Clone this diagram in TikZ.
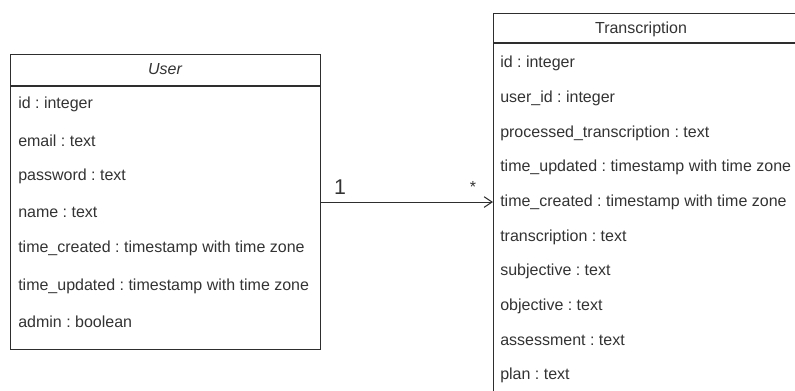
\documentclass[tikz,border=0pt]{standalone}
\usepackage{fontspec}
\setmainfont{Liberation Sans}
\usetikzlibrary{positioning, calc, arrows.meta}

\definecolor{umltext}{HTML}{333333}
\definecolor{umlline}{HTML}{2E2E2E}
\frenchspacing

\begin{document}
\begin{tikzpicture}[x=0.75pt, y=-0.75pt,
	classbox/.style={draw=umlline, line width=0.8pt, anchor=north west, inner sep=0pt},
	field/.style={anchor=west, inner sep=0pt, text=umltext, font=\fontsize{12}{14}\selectfont},
	title/.style={inner sep=0pt, text=umltext, font=\fontsize{12}{14}\selectfont},
	assoc/.style={draw=umlline, line width=0.8pt, -{Straight Barb[length=6pt, width=8pt]}}]
	\clip (0,0) rectangle (795,390);

	% User class
	\node[classbox, minimum width=232.5pt, minimum height=221.25pt] (user) at (10,54) {};
	\draw[umlline, line width=0.8pt] ($(user.north west)+(0,32)$) -- ($(user.north east)+(0,32)$);
	\node[title, font=\fontsize{12}{14}\selectfont\itshape] (usertitle) at (165,69) {User};
	\node[field] (u1) at (18,104) {id : integer};
	\node[field] (u2) at (18,141) {email : text};
	\node[field] (u3) at (18,176) {password : text};
	\node[field] (u4) at (18,212) {name : text};
	\node[field] (u5) at (18,248) {time\_created : timestamp with time zone};
	\node[field] (u6) at (18,286) {time\_updated : timestamp with time zone};
	\node[field] (u7) at (18,322) {admin : boolean};

	% Transcription class
	\node[classbox, minimum width=241.5pt, minimum height=305pt] (trans) at (493,13) {};
	\draw[umlline, line width=0.8pt] ($(trans.north west)+(0,30)$) -- ($(trans.north east)+(0,30)$);
	\node[title] (transtitle) at (641,29) {Transcription};
	\node[field] (t1) at (500,63) {id : integer};
	\node[field] (t2) at (500,98) {user\_id : integer};
	\node[field] (t3) at (500,133) {processed\_transcription : text};
	\node[field] (t4) at (500,167) {time\_updated : timestamp with time zone};
	\node[field] (t5) at (500,202) {time\_created : timestamp with time zone};
	\node[field] (t6) at (500,237) {transcription : text};
	\node[field] (t7) at (500,271) {subjective : text};
	\node[field] (t8) at (500,306) {objective : text};
	\node[field] (t9) at (500,340) {assessment : text};
	\node[field] (t10) at (500,375) {plan : text};

	% association
	\draw[assoc] (user.east) -- (user.east -| trans.west);
	\node[title, font=\fontsize{16}{18}\selectfont] (one) at (340,187) {1};
	\node[title, font=\fontsize{12}{14}\selectfont] (many) at (473,187) {*};
\end{tikzpicture}
\end{document}
